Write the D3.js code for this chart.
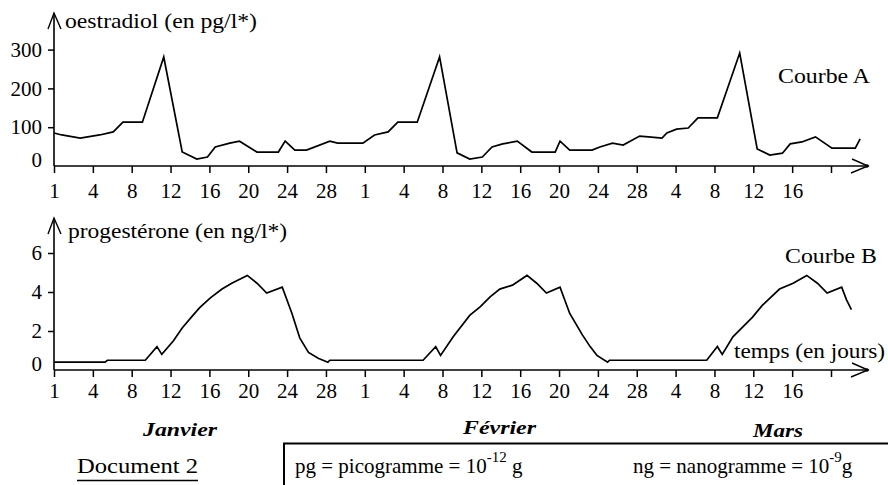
<!DOCTYPE html>
<html>
<head>
<meta charset="utf-8">
<script src="https://cdn.jsdelivr.net/npm/d3@7"></script>
<style>
  html, body { margin: 0; padding: 0; background: #fff; }
  svg { display: block; }
</style>
</head>
<body>
<svg id="chart" width="888" height="485"></svg>
<script>
// Day positions of the graduations (one tick every 4 days) and their labels
const tickDays = [0, 4, 8, 12, 16, 20, 24, 28, 32, 36, 40, 44, 48, 52, 56, 60, 64, 68, 72, 76, 80];
const tickLabels = ["1", "4", "8", "12", "16", "20", "24", "28", "1", "4", "8", "12", "16", "20", "24", "28", "4", "8", "12", "16", ""];
const months = ["Janvier", "Février", "Mars"];

// Courbe A : oestradiol (pg/l), days counted from 1 January
const oestradiolDays = [0, 0.8, 2.7, 4.7, 6.1, 7.1, 9.1, 11.3, 13.2, 14.7, 15.8, 16.6, 18.1, 19.1, 20.9, 23.1, 23.8, 24.8, 26.0, 28.4, 29.2, 31.8, 33.0, 34.4, 35.4, 37.4, 39.7, 41.5, 42.8, 44.1, 45.1, 46.2, 47.7, 49.2, 51.6, 52.1, 53.1, 55.4, 56.2, 57.5, 58.6, 60.3, 61.2, 62.6, 63.1, 64.1, 65.3, 66.3, 68.3, 70.6, 72.4, 73.7, 75.0, 75.8, 77.0, 78.4, 80.1, 82.5, 83.0];
const oestradiolValues = [85, 80, 72, 80, 88, 113, 113, 281, 36, 18, 23, 49, 59, 64, 36, 36, 64, 41, 41, 64, 59, 59, 80, 88, 113, 113, 281, 34, 18, 23, 49, 57, 64, 36, 36, 64, 41, 41, 49, 59, 54, 77, 75, 72, 85, 95, 98, 124, 124, 291, 44, 28, 33, 57, 62, 75, 46, 46, 70];

// Courbe B : progestérone (ng/l)
const progesteroneDays = [0, 5.25, 5.5, 9.4, 10.6, 11.1, 12.3, 13.2, 14.3, 15.0, 16.1, 17.3, 18.3, 19.9, 20.9, 21.9, 23.5, 24.5, 25.3, 26.2, 27.2, 28.2, 28.4, 38.0, 39.3, 39.8, 41.1, 42.8, 43.9, 44.9, 45.9, 47.2, 48.7, 49.7, 50.7, 52.1, 53.1, 54.4, 55.2, 55.9, 57.0, 57.2, 67.2, 68.3, 68.8, 69.9, 71.9, 72.9, 74.7, 76.1, 77.5, 78.6, 79.6, 81.1, 81.6, 82.1];
const progesteroneValues = [0.4, 0.4, 0.5, 0.5, 1.2, 0.8, 1.5, 2.15, 2.8, 3.2, 3.7, 4.15, 4.45, 4.85, 4.45, 3.95, 4.25, 2.9, 1.65, 0.9, 0.6, 0.4, 0.5, 0.5, 1.2, 0.75, 1.7, 2.8, 3.25, 3.75, 4.15, 4.35, 4.85, 4.45, 3.95, 4.25, 2.9, 1.8, 1.2, 0.75, 0.4, 0.5, 0.5, 1.2, 0.8, 1.7, 2.7, 3.3, 4.15, 4.45, 4.85, 4.45, 3.95, 4.25, 3.6, 3.1];

const oestradiolTicks = [0, 100, 200, 300];
const progesteroneTicks = [0, 2, 4, 6];

const SERIF = "'Liberation Serif', 'Times New Roman', serif";

const svg = d3.select("#chart").style("font-family", SERIF);

const x = d3.scaleLinear().domain([0, 80]).range([54, 831]);
const yA = d3.scaleLinear().domain([0, 300]).range([166, 49.6]);
const yB = d3.scaleLinear().domain([0, 6]).range([370, 253]);

const axisEnd = 868;

function drawPanel(y, ticks, days, values, topY, labelPad) {
  const g = svg.append("g");
  const y0 = y(0);

  // x axis with graduations
  const xa = g.append("g")
    .attr("transform", `translate(0,${y0})`)
    .call(d3.axisBottom(x).tickValues(tickDays)
      .tickFormat((d, i) => tickLabels[i]).tickSize(7).tickPadding(labelPad));
  xa.select(".domain").remove();
  xa.selectAll(".tick line").attr("stroke", "#000").attr("stroke-width", 1.5);
  xa.selectAll(".tick text").attr("font-size", 21)
    .style("font-family", SERIF).attr("fill", "#000");

  // y axis with graduations
  const ya = g.append("g")
    .attr("transform", `translate(${x(0)},0)`)
    .call(d3.axisLeft(y).tickValues(ticks).tickFormat(d3.format("d"))
      .tickSize(6).tickPadding(6));
  ya.select(".domain").remove();
  ya.selectAll(".tick line").attr("stroke", "#000").attr("stroke-width", 1.5)
    .filter(d => d === 0).remove();
  ya.selectAll(".tick text").attr("font-size", 21)
    .style("font-family", SERIF).attr("fill", "#000")
    .filter(d => d === 0).attr("y", -6);

  // axis lines and open arrowheads
  g.append("line").attr("x1", x(0)).attr("x2", axisEnd).attr("y1", y0).attr("y2", y0)
    .attr("stroke", "#000").attr("stroke-width", 1.6);
  g.append("line").attr("x1", x(0)).attr("x2", x(0)).attr("y1", topY).attr("y2", y0)
    .attr("stroke", "#000").attr("stroke-width", 1.6);
  g.append("path")
    .attr("d", `M${x(0) - 6},${topY + 16} L${x(0)},${topY} L${x(0) + 7},${topY + 16}`)
    .attr("fill", "none").attr("stroke", "#000").attr("stroke-width", 1.4);
  g.append("path")
    .attr("d", `M${axisEnd - 16},${y0 - 7} L${axisEnd},${y0} L${axisEnd - 17},${y0 + 7}`)
    .attr("fill", "none").attr("stroke", "#000").attr("stroke-width", 1.4);
  g.append("circle").attr("cx", axisEnd - 1).attr("cy", y0).attr("r", 1.8).attr("fill", "#000");

  // curve
  const line = d3.line().x(d => x(d[0])).y(d => y(d[1]));
  g.append("path")
    .datum(days.map((d, i) => [d, values[i]]))
    .attr("d", line)
    .attr("fill", "none").attr("stroke", "#000").attr("stroke-width", 1.7)
    .attr("stroke-linejoin", "miter");
  return g;
}

drawPanel(yA, oestradiolTicks, oestradiolDays, oestradiolValues, 13, 10);
drawPanel(yB, progesteroneTicks, progesteroneDays, progesteroneValues, 218, 6);

function label(txt, lx, ly, len, size, extra) {
  const t = svg.append("text").attr("x", lx).attr("y", ly)
    .attr("font-size", size).style("font-family", SERIF).attr("fill", "#000").text(txt);
  if (len) t.attr("textLength", len).attr("lengthAdjust", "spacingAndGlyphs");
  if (extra) extra(t);
  return t;
}

label("oestradiol (en pg/l*)", 65, 28, 192, 21);
label("Courbe A", 778, 83, 92, 21);
label("progestérone (en ng/l*)", 68, 238, 219, 21);
label("Courbe B", 785, 263, 92, 21);
label("temps (en jours)", 734, 358, 151, 21);

// month names under the time axis
const monthPos = [[143, 436, 74], [463, 434, 73], [753, 437, 50]];
months.forEach((m, i) => {
  label(m, monthPos[i][0], monthPos[i][1], monthPos[i][2], 18,
    t => t.attr("font-weight", "bold").attr("font-style", "italic"));
});

// document title
label("Document 2", 77, 473, 121, 22);
svg.append("line").attr("x1", 77).attr("x2", 198).attr("y1", 480.5).attr("y2", 480.5)
  .attr("stroke", "#000").attr("stroke-width", 1.5);

// units box
svg.append("path").attr("d", "M284,485 L284,443.5 L888,443.5")
  .attr("fill", "none").attr("stroke", "#000").attr("stroke-width", 2);

const pg = svg.append("text").attr("x", 295).attr("y", 473).attr("font-size", 21)
  .style("font-family", SERIF).attr("fill", "#000");
pg.append("tspan").text("pg = picogramme = 10");
pg.append("tspan").attr("dy", -11).attr("font-size", 15).text("-12");
pg.append("tspan").attr("dy", 11).text(" g");

const ng = svg.append("text").attr("x", 633).attr("y", 473).attr("font-size", 21)
  .style("font-family", SERIF).attr("fill", "#000");
ng.append("tspan").text("ng = nanogramme = 10");
ng.append("tspan").attr("dy", -11).attr("font-size", 15).text("-9");
ng.append("tspan").attr("dy", 11).text("g");
</script>
</body>
</html>
